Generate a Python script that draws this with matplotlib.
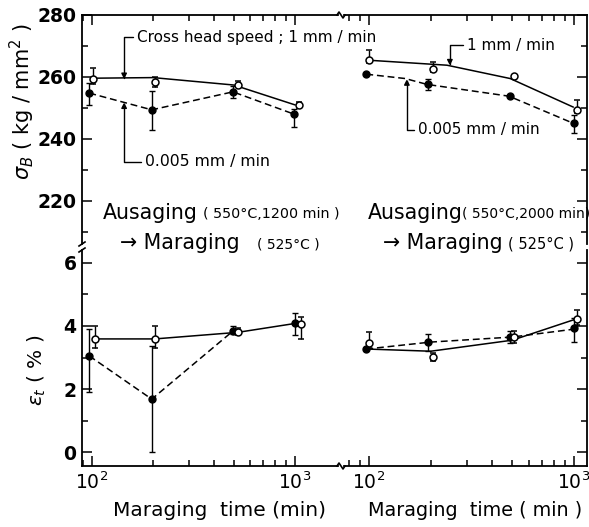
import matplotlib
matplotlib.use('Agg')
import matplotlib.pyplot as plt
from matplotlib.lines import Line2D
from matplotlib.ticker import LogLocator, FixedLocator, NullFormatter, LogFormatterMathtext

plt.rcParams['font.family'] = ['DejaVu Sans']
plt.rcParams['mathtext.fontset'] = 'dejavusans'

# ---------------- data ----------------
# upper left: sigma_B, ausaging 550C 1200 min
tl_open_x = [101, 204, 525, 1050]
tl_open_y = [259.5, 258.3, 257.3, 251.0]
tl_open_lo = [1.8, 1.6, 0.6, 1.0]
tl_open_hi = [3.5, 1.7, 1.3, 1.0]
tl_fill_x = [97, 197, 495, 990]
tl_fill_y = [254.8, 249.4, 255.2, 248.0]
tl_fill_lo = [3.8, 6.4, 2.0, 4.0]
tl_fill_hi = [3.2, 6.1, 1.8, 1.7]
tl_solid_x = [100, 200, 500, 1000]
tl_solid_y = [259.6, 259.8, 257.4, 251.0]
tl_dash_x = [97, 197, 495, 990]
tl_dash_y = [254.8, 249.4, 255.2, 248.0]

# upper right: sigma_B, ausaging 550C 2000 min
tr_open_x = [100, 205, 510, 1030]
tr_open_y = [265.5, 262.6, 260.3, 249.3]
tr_open_lo = [1.0, 1.0, 0.0, 1.0]
tr_open_hi = [3.2, 2.2, 0.0, 3.3]
tr_fill_x = [97, 194, 488, 1000]
tr_fill_y = [261.0, 257.7, 253.9, 245.2]
tr_fill_lo = [0.0, 1.9, 0.0, 3.2]
tr_fill_hi = [0.0, 1.7, 0.0, 2.5]
tr_solid_x = [100, 240, 488, 990]
tr_solid_y = [265.4, 263.8, 259.5, 250.3]
tr_dash_x = [97, 150, 192, 482, 980]
tr_dash_y = [260.9, 259.5, 257.6, 253.8, 245.2]

# lower left: elongation
bl_open_x = [103, 204, 525, 1070]
bl_open_y = [3.59, 3.59, 3.80, 4.05]
bl_open_lo = [0.30, 0.30, 0.10, 0.45]
bl_open_hi = [0.40, 0.40, 0.15, 0.25]
bl_fill_x = [97, 197, 495, 1000]
bl_fill_y = [3.05, 1.68, 3.84, 4.10]
bl_fill_lo = [1.15, 1.68, 0.10, 0.40]
bl_fill_hi = [0.85, 1.70, 0.15, 0.30]
bl_solid_x = [103, 204, 525, 1000]
bl_solid_y = [3.59, 3.59, 3.80, 4.08]
bl_dash_x = [97, 197, 495]
bl_dash_y = [3.05, 1.68, 3.84]

# lower right: elongation
br_open_x = [100, 205, 510, 1030]
br_open_y = [3.46, 3.02, 3.65, 4.22]
br_open_lo = [0.15, 0.12, 0.20, 0.20]
br_open_hi = [0.35, 0.13, 0.20, 0.28]
br_fill_x = [97, 194, 488, 1000]
br_fill_y = [3.27, 3.49, 3.65, 3.94]
br_fill_lo = [0.0, 0.29, 0.20, 0.45]
br_fill_hi = [0.0, 0.26, 0.20, 0.30]
br_solid_x = [97, 200, 500, 1000]
br_solid_y = [3.27, 3.20, 3.55, 4.20]
br_dash_x = [97, 200, 500, 1000]
br_dash_y = [3.27, 3.49, 3.65, 3.90]

W, H = 589, 527


def rect(l, t, r, b):
    return [l / W, 1 - b / H, (r - l) / W, (b - t) / H]


def fx(px):
    return px / W


def fy(py):
    return 1 - py / H


fig = plt.figure(figsize=(W / 100, H / 100), dpi=100)
fig.patch.set_facecolor('white')

ax_tl = fig.add_axes(rect(82, 15, 338, 244))
ax_tr = fig.add_axes(rect(344, 15, 587, 244))
ax_bl = fig.add_axes(rect(82, 250, 338, 466))
ax_br = fig.add_axes(rect(344, 250, 587, 466))

lw = 1.1


def draw(ax, ox, oy, olo, ohi, fx_, fy_, flo, fhi, sx, sy, dx, dy):
    ax.plot(sx, sy, '-', color='black', lw=lw, zorder=2)
    ax.plot(dx, dy, '--', color='black', lw=lw, dashes=(4.5, 2.5), zorder=2)
    ax.errorbar(fx_, fy_, yerr=[flo, fhi], fmt='o', color='black', ms=5,
                mfc='black', mec='black', ecolor='black', elinewidth=1,
                capsize=2.5, capthick=1, zorder=3)
    ax.errorbar(ox, oy, yerr=[olo, ohi], fmt='o', color='black', ms=5,
                mfc='white', mec='black', mew=1.1, ecolor='black', elinewidth=1,
                capsize=2.5, capthick=1, zorder=4)


draw(ax_tl, tl_open_x, tl_open_y, tl_open_lo, tl_open_hi,
     tl_fill_x, tl_fill_y, tl_fill_lo, tl_fill_hi,
     tl_solid_x, tl_solid_y, tl_dash_x, tl_dash_y)
draw(ax_tr, tr_open_x, tr_open_y, tr_open_lo, tr_open_hi,
     tr_fill_x, tr_fill_y, tr_fill_lo, tr_fill_hi,
     tr_solid_x, tr_solid_y, tr_dash_x, tr_dash_y)
draw(ax_bl, bl_open_x, bl_open_y, bl_open_lo, bl_open_hi,
     bl_fill_x, bl_fill_y, bl_fill_lo, bl_fill_hi,
     bl_solid_x, bl_solid_y, bl_dash_x, bl_dash_y)
draw(ax_br, br_open_x, br_open_y, br_open_lo, br_open_hi,
     br_fill_x, br_fill_y, br_fill_lo, br_fill_hi,
     br_solid_x, br_solid_y, br_dash_x, br_dash_y)

# --- axes formatting ---
for ax in (ax_tl, ax_bl):
    ax.set_xscale('log')
    ax.set_xlim(89.3, 1630)
for ax in (ax_tr, ax_br):
    ax.set_xscale('log')
    ax.set_xlim(75.5, 1157)
for ax in (ax_tl, ax_tr):
    ax.set_ylim(206.1, 280)
    ax.yaxis.set_major_locator(FixedLocator([220, 240, 260, 280]))
    ax.yaxis.set_minor_locator(FixedLocator([210, 230, 250, 270]))
for ax in (ax_bl, ax_br):
    ax.set_ylim(-0.44, 6.41)
    ax.yaxis.set_major_locator(FixedLocator([0, 2, 4, 6]))
    ax.yaxis.set_minor_locator(FixedLocator([1, 3, 5]))

for ax in (ax_tl, ax_tr, ax_bl, ax_br):
    ax.xaxis.set_major_locator(LogLocator(base=10, numticks=5))
    ax.xaxis.set_minor_locator(LogLocator(base=10, subs=range(2, 10), numticks=20))
    ax.xaxis.set_minor_formatter(NullFormatter())
    ax.xaxis.set_major_formatter(LogFormatterMathtext())
    for s in ax.spines.values():
        s.set_linewidth(1.3)
    ax.tick_params(which='both', direction='in', width=1.1, labelsize=13.5)
    ax.tick_params(which='major', length=7, pad=4)
    ax.tick_params(which='minor', length=4)
    ax.set_facecolor('none')

# top panels: no bottom spine
for ax in (ax_tl, ax_tr):
    ax.spines['bottom'].set_visible(False)
    ax.tick_params(axis='x', which='both', bottom=False, top=True, labelbottom=False)
# bottom panels: no top spine
for ax in (ax_bl, ax_br):
    ax.spines['top'].set_visible(False)
    ax.tick_params(axis='x', which='both', bottom=True, top=False)
# left panels: no right spine
for ax in (ax_tl, ax_bl):
    ax.spines['right'].set_visible(False)
    ax.tick_params(axis='y', which='both', left=True, right=False)
# right panels: no left spine, ticks on the right
for ax in (ax_tr, ax_br):
    ax.spines['left'].set_visible(False)
    ax.tick_params(axis='y', which='both', left=False, right=True,
                   labelleft=False, labelright=False)

for lab in ax_tl.get_yticklabels() + ax_bl.get_yticklabels():
    lab.set_fontweight('bold')

# --- axis labels ---
fig.text(fx(22), fy(102), r'$\sigma_B$ ( kg / mm$^2$ )', rotation=90,
         ha='center', va='center', fontsize=15)
fig.text(fx(37), fy(370), r'$\varepsilon_t$ ( % )', rotation=90,
         ha='center', va='center', fontsize=14.5)
fig.text(fx(113), fy(510), 'Maraging  time (min)', ha='left', va='center', fontsize=14.5)
fig.text(fx(368), fy(510), 'Maraging  time ( min )', ha='left', va='center', fontsize=13.8)

# --- condition labels ---
fig.text(fx(103), fy(213), 'Ausaging', ha='left', va='center', fontsize=14.8)
fig.text(fx(203), fy(214), '( 550°C,1200 min )', ha='left', va='center', fontsize=10.3)
fig.text(fx(120), fy(243), '→ Maraging', ha='left', va='center', fontsize=14.8)
fig.text(fx(257), fy(244), '( 525°C )', ha='left', va='center', fontsize=10)
fig.text(fx(368), fy(213), 'Ausaging', ha='left', va='center', fontsize=14.8)
fig.text(fx(462), fy(214), '( 550°C,2000 min)', ha='left', va='center', fontsize=10)
fig.text(fx(383), fy(243), '→ Maraging', ha='left', va='center', fontsize=14.8)
fig.text(fx(508), fy(244), '( 525°C )', ha='left', va='center', fontsize=10.5)

# --- leader annotations ---
arrow = dict(arrowstyle='-|>', color='black', lw=1, mutation_scale=8,
             connectionstyle='angle,angleA=0,angleB=90,rad=0',
             relpos=(0, 0.5), shrinkA=1, shrinkB=0)
ax_tl.annotate('Cross head speed ; 1 mm / min', xy=(144, 259.3), xytext=(167, 272.9),
               ha='left', va='center', fontsize=11, arrowprops=arrow,
               annotation_clip=False)
ax_tl.annotate('0.005 mm / min', xy=(144, 251.8), xytext=(182, 232.6),
               ha='left', va='center', fontsize=11.3, arrowprops=arrow)
ax_tr.annotate('1 mm / min', xy=(248, 263.7), xytext=(300, 270.3),
               ha='left', va='center', fontsize=11, arrowprops=arrow)
ax_tr.annotate('0.005 mm / min', xy=(153, 259.3), xytext=(173, 242.9),
               ha='left', va='center', fontsize=11, arrowprops=arrow)

# --- break marks ---
for py in (15, 466):
    fig.add_artist(Line2D([fx(p) for p in (337, 339, 343, 345)],
                          [fy(py), fy(py - 3), fy(py + 3), fy(py)],
                          color='black', lw=1.2))
fig.add_artist(Line2D([fx(79), fx(85)], [fy(246), fy(242)], color='black', lw=1.2))
fig.add_artist(Line2D([fx(79), fx(85)], [fy(252), fy(248)], color='black', lw=1.2))

fig.savefig('out.png', dpi=100, facecolor='white')
